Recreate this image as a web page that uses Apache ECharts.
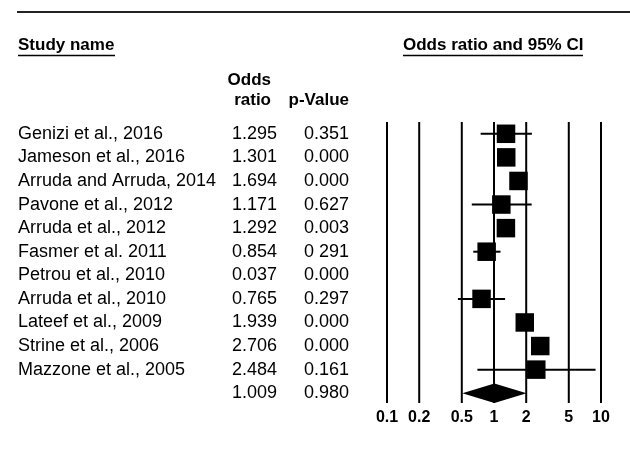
<!DOCTYPE html>
<html>
<head>
<meta charset="utf-8">
<script src="https://cdn.jsdelivr.net/npm/echarts@6/dist/echarts.min.js"></script>
<style>
html,body{margin:0;padding:0;background:#fff;}
#chart{width:630px;height:455px;}
</style>
</head>
<body>
<div id="chart"></div>
<script>
// ---- data ----
const studies = ['Genizi et al., 2016', 'Jameson et al., 2016', 'Arruda and Arruda, 2014', 'Pavone et al., 2012', 'Arruda et al., 2012', 'Fasmer et al. 2011', 'Petrou et al., 2010', 'Arruda et al., 2010', 'Lateef et al., 2009', 'Strine et al., 2006', 'Mazzone et al., 2005'];
const oddsRatio = [1.295, 1.301, 1.694, 1.171, 1.292, 0.854, 0.037, 0.765, 1.939, 2.706, 2.484];
const lowerCI = [0.75, 1.20, 1.50, 0.62, 1.10, 0.64, 0.02, 0.46, 1.70, 2.50, 0.70];
const upperCI = [2.26, 1.41, 1.90, 2.25, 1.50, 1.15, 0.07, 1.27, 2.20, 2.90, 8.90];
const pValues = ['0.351', '0.000', '0.000', '0.627', '0.003', '0 291', '0.000', '0.297', '0.000', '0.000', '0.161'];
const pooledOR = 1.009;
const pooledLower = 0.506;
const pooledUpper = 2.016;
const pooledP = '0.980';
const tickValues = [0.1, 0.2, 0.5, 1, 2, 5, 10];
const tickLabels = ['0.1', '0.2', '0.5', '1', '2', '5', '10'];

// ---- build ----
const FONT = 'Liberation Sans, Arial, sans-serif';
const nameCol = studies.concat(['']);
const orCol = oddsRatio.map(v => v.toFixed(3)).concat([pooledOR.toFixed(3)]);
const pCol = pValues.concat([pooledP]);
const studyData = oddsRatio.map((v, i) => [v, lowerCI[i], upperCI[i], i]);
const pooledData = [[pooledOR, pooledLower, pooledUpper, studies.length]];
const XMIN = 0.1, XMAX = 10;

function catAxis(data, align, margin) {
  return {
    type: 'category', inverse: true, data: data, position: 'left',
    axisLine: {show: false}, axisTick: {show: false}, splitLine: {show: false},
    axisLabel: {interval: 0, align: align, margin: margin, fontSize: 18, color: '#000', fontFamily: FONT}
  };
}

const HFONT = 'bold 17px ' + FONT;
const chart = echarts.init(document.getElementById('chart'), null, {renderer: 'canvas'});
const option = {
  animation: false,
  backgroundColor: '#fff',
  grid: {left: 387, right: 29, top: 122, height: 283, containLabel: false},
  xAxis: {
    type: 'log', logBase: 10, min: XMIN, max: XMAX,
    axisLine: {show: false}, axisTick: {show: false}, axisLabel: {show: false}, splitLine: {show: false}
  },
  yAxis: [
    catAxis(nameCol, 'left', 369),
    catAxis(orCol, 'right', 110),
    catAxis(pCol, 'right', 38)
  ],
  graphic: [
    {type: 'line', shape: {x1: 17, y1: 12, x2: 630, y2: 12}, style: {stroke: '#222', lineWidth: 2}},
    {type: 'text', x: 18, y: 45, style: {text: 'Study name', font: HFONT, fill: '#000', align: 'left', verticalAlign: 'middle'}},
    {type: 'line', shape: {x1: 18, y1: 55.5, x2: 115, y2: 55.5}, style: {stroke: '#000', lineWidth: 1.5}},
    {type: 'text', x: 403, y: 45, style: {text: 'Odds ratio and 95% CI', font: HFONT, fill: '#000', align: 'left', verticalAlign: 'middle'}},
    {type: 'line', shape: {x1: 403, y1: 55.5, x2: 583, y2: 55.5}, style: {stroke: '#000', lineWidth: 1.5}},
    {type: 'text', x: 271, y: 80, style: {text: 'Odds', font: HFONT, fill: '#000', align: 'right', verticalAlign: 'middle'}},
    {type: 'text', x: 271, y: 100, style: {text: 'ratio', font: HFONT, fill: '#000', align: 'right', verticalAlign: 'middle'}},
    {type: 'text', x: 349, y: 100, style: {text: 'p-Value', font: HFONT, fill: '#000', align: 'right', verticalAlign: 'middle'}}
  ],
  series: [
    {
      type: 'custom', name: 'grid lines', xAxisIndex: 0, yAxisIndex: 0,
      data: tickValues.map(v => [v, 0]),
      encode: {x: 0, y: 1},
      renderItem: function (params, api) {
        const cs = params.coordSys;
        const x = api.coord([api.value(0), 0])[0];
        return {
          type: 'group', children: [
            {type: 'line', shape: {x1: x, y1: cs.y, x2: x, y2: cs.y + cs.height - 2}, style: {stroke: '#000', lineWidth: 2}},
            {type: 'text', x: x, y: cs.y + cs.height + 13, style: {text: tickLabels[params.dataIndex], font: 'bold 16px ' + FONT, fill: '#000', align: 'center', verticalAlign: 'middle'}}
          ]
        };
      },
      z: 1
    },
    {
      type: 'custom', name: 'studies', xAxisIndex: 0, yAxisIndex: 0,
      data: studyData,
      encode: {x: [0, 1, 2], y: 3},
      clip: true,
      renderItem: function (params, api) {
        const or = api.value(0), lo = api.value(1), hi = api.value(2), row = api.value(3);
        if (hi < XMIN || lo > XMAX) return {type: 'group', children: []};
        const y = api.coord([1, row])[1];
        const xc = api.coord([or, row])[0];
        const xl = api.coord([Math.max(lo, XMIN), row])[0];
        const xh = api.coord([Math.min(hi, XMAX), row])[0];
        const s = 18.5;
        return {
          type: 'group', children: [
            {type: 'line', shape: {x1: xl, y1: y, x2: xh, y2: y}, style: {stroke: '#000', lineWidth: 2}},
            {type: 'rect', shape: {x: xc - s / 2, y: y - s / 2, width: s, height: s}, style: {fill: '#000'}}
          ]
        };
      },
      z: 2
    },
    {
      type: 'custom', name: 'pooled', xAxisIndex: 0, yAxisIndex: 0,
      data: pooledData,
      encode: {x: [0, 1, 2], y: 3},
      renderItem: function (params, api) {
        const row = api.value(3);
        const y = api.coord([1, row])[1];
        const xc = api.coord([api.value(0), row])[0];
        const xl = api.coord([api.value(1), row])[0];
        const xh = api.coord([api.value(2), row])[0];
        const h = 9.7;
        return {
          type: 'polygon',
          shape: {points: [[xl, y], [xc, y - h], [xh, y], [xc, y + h]]},
          style: {fill: '#000'}
        };
      },
      z: 2
    }
  ]
};
chart.setOption(option);
</script>
</body>
</html>
